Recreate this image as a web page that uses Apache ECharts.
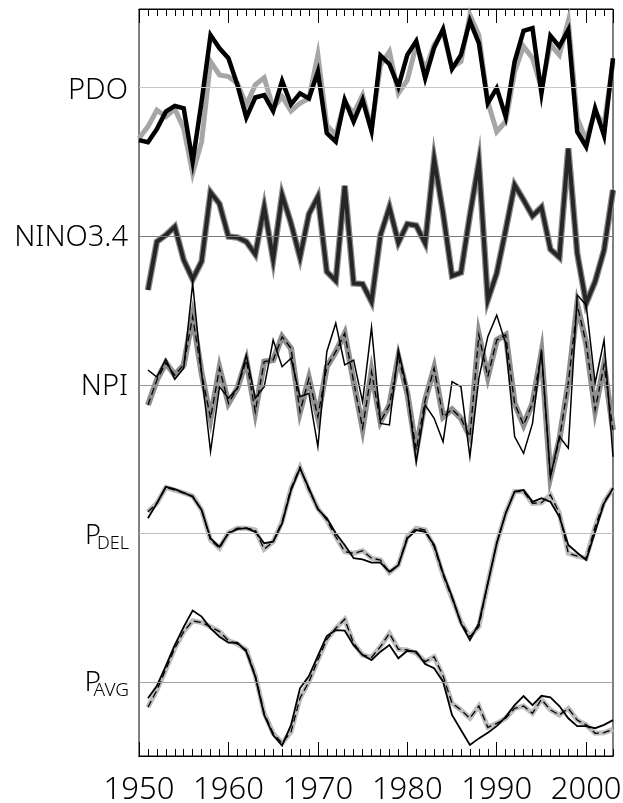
<!DOCTYPE html>
<html>
<head>
<meta charset="utf-8">
<script src="https://cdn.jsdelivr.net/npm/echarts@6/dist/echarts.min.js"></script>
<style>
  html, body { margin: 0; padding: 0; background: #fff; }
  #main { width: 623px; height: 803px; }
</style>
</head>
<body>
<div id="main"></div>
<script>
// years on the x axis
const years = [1950, 1951, 1952, 1953, 1954, 1955, 1956, 1957, 1958, 1959,
    1960, 1961, 1962, 1963, 1964, 1965, 1966, 1967, 1968, 1969,
    1970, 1971, 1972, 1973, 1974, 1975, 1976, 1977, 1978, 1979,
    1980, 1981, 1982, 1983, 1984, 1985, 1986, 1987, 1988, 1989,
    1990, 1991, 1992, 1993, 1994, 1995, 1996, 1997, 1998, 1999,
    2000, 2001, 2002, 2003];
const yearLabels = [1950, 1960, 1970, 1980, 1990, 2000];
const panelNames = ["PDO", "NINO3.4", "NPI", "P", "P"];
const panelSubs = ["", "", "", "DEL", "AVG"];

// PDO (two versions)
const pdoBlack = [-1.76, -1.83, -1.39, -0.81, -0.62, -0.70, -2.48, -0.48, 1.74, 1.30,
    0.97, 0.08, -1.01, -0.34, -0.26, -0.79, 0.21, -0.57, -0.20, -0.37,
    0.52, -1.53, -1.81, -0.42, -1.14, -0.42, -1.46, 1.06, 0.77, 0.02,
    1.08, 1.54, 0.30, 1.32, 1.94, 0.61, 1.08, 2.21, 1.47, -0.53,
    -0.03, -0.98, 0.86, 1.88, 1.97, -0.20, 1.72, 1.36, 1.91, -1.48,
    -1.98, -0.70, -1.61, 0.97];
const pdoGray = [-1.70, -1.31, -0.76, -0.98, -0.72, -1.37, -2.87, -1.81, 0.86, 0.41,
    0.36, 0.13, -0.59, 0.08, 0.32, -0.70, -0.31, -0.79, -0.53, -0.37,
    1.08, -1.26, -1.59, -0.48, -0.87, -0.26, -1.37, 0.74, 1.19, -0.20,
    0.24, 1.41, 0.58, 1.41, 1.86, 0.66, 0.86, 2.41, 1.74, -0.48,
    -1.48, -1.14, 0.52, 1.36, 0.97, -0.03, 1.43, 1.08, 2.21, -1.03,
    -1.76, -0.81, -1.26, 0.86];

// NINO3.4
const nino = [null, -1.79, -0.18, 0.04, 0.32, -0.79, -1.43, -0.84, 1.47, 1.08,
    -0.01, -0.04, -0.18, -0.60, 0.97, -0.77, 1.38, 0.43, -0.70, 0.74,
    1.32, -1.18, -1.48, 1.68, -1.57, -1.59, -2.18, 0.04, 0.97, -0.21,
    0.41, 0.36, -0.23, 2.57, 0.77, -1.32, -1.21, 0.71, 2.47, -2.12,
    -1.23, 0.21, 1.71, 1.21, 0.68, 0.97, -0.43, -0.70, 2.93, -0.57,
    -2.23, -1.51, -0.46, 1.54];

// NPI: thin black line, thick gray line with dashed line on it
const npiBlack = [null, 0.50, 0.26, 0.86, 0.19, 0.56, 3.39, 0.39, -2.22, -0.06,
    -0.44, -0.11, 1.00, -0.44, -0.06, 1.50, 0.61, 0.89, -0.39, -0.28,
    -2.06, 1.11, 2.06, 0.67, 0.83, -0.56, 1.92, -1.28, -1.33, 1.17,
    -0.17, -2.56, -0.67, -1.11, -1.89, 0.11, -0.06, -2.39, 0.22, 1.61,
    2.33, 1.39, -1.72, -2.28, -1.28, 1.17, -3.06, -1.72, -2.11, 3.00,
    2.67, 0.06, 1.50, -2.39];
const npiGray = [null, -0.67, 0.17, 0.74, 0.33, 0.67, 2.28, 0.39, -1.11, 0.56,
    -0.61, -0.11, 0.83, -0.89, 0.78, 0.83, 1.61, 1.22, -0.89, 0.22,
    -1.06, 0.61, 1.11, 1.72, 0.11, -1.44, 0.44, -1.22, -0.67, 0.94,
    -0.28, -2.17, -0.50, 0.56, -1.06, -0.81, -1.11, -1.72, 1.67, 0.28,
    1.50, 1.67, -0.61, -1.33, -0.61, 1.06, -3.06, -1.83, 0.06, 2.67,
    1.39, -0.83, 0.67, -1.50];

// P_DEL
const pdelBlack = [null, 0.49, 0.99, 1.54, 1.46, 1.34, 1.21, 0.77, -0.18, -0.46,
    -0.01, 0.13, 0.16, 0.04, -0.34, -0.29, 0.32, 1.43, 2.16, 1.49,
    0.79, 0.49, -0.01, -0.40, -0.84, -0.88, -0.99, -0.99, -1.29, -1.07,
    -0.18, 0.10, 0.04, -0.40, -1.34, -2.12, -3.01, -3.57, -3.01, -1.68,
    -0.34, 0.66, 1.38, 1.43, 1.04, 1.16, 1.04, 0.54, -0.40, -0.66,
    -0.90, 0.04, 0.99, 1.49];
const pdelGray = [null, 0.71, 0.99, 1.52, 1.43, 1.34, 1.23, 0.77, -0.23, -0.51,
    0.01, 0.16, 0.16, 0.10, -0.54, -0.29, 0.38, 1.49, 2.19, 1.43,
    0.82, 0.43, -0.12, -0.62, -0.68, -0.59, -0.84, -0.90, -1.32, -1.07,
    -0.12, 0.16, 0.10, -0.46, -1.40, -2.18, -2.96, -3.46, -3.12, -1.68,
    -0.34, 0.66, 1.38, 1.38, 0.99, 1.01, 1.27, 0.66, -0.68, -0.77,
    -0.84, 0.21, 1.04, 1.49];

// P_AVG
const pavgBlack = [null, -0.54, -0.13, 0.53, 1.23, 1.84, 2.38, 2.18, 1.79, 1.51,
    1.31, 1.31, 1.01, 0.18, -1.10, -1.77, -2.12, -1.43, -0.21, 0.20,
    0.87, 1.53, 1.73, 1.71, 1.23, 0.90, 0.73, 1.01, 1.23, 0.79,
    1.04, 1.01, 0.60, 0.46, 0.01, -1.10, -1.60, -2.10, -1.88, -1.69,
    -1.47, -1.16, -0.77, -0.47, -0.77, -0.46, -0.51, -0.80, -1.21, -1.47,
    -1.47, -1.54, -1.43, -1.27];
const pavgGray = [null, -0.84, -0.27, 0.42, 1.12, 1.68, 2.04, 1.98, 1.84, 1.68,
    1.38, 1.27, 1.07, 0.23, -1.04, -1.71, -2.04, -1.66, -0.54, 0.01,
    0.73, 1.42, 1.79, 2.09, 1.29, 0.90, 0.82, 1.18, 1.62, 1.09,
    1.07, 0.96, 0.68, 0.84, 0.20, -0.71, -0.93, -1.21, -0.80, -1.51,
    -1.38, -1.21, -0.88, -0.80, -1.04, -0.58, -0.93, -1.10, -0.88, -1.27,
    -1.43, -1.71, -1.69, -1.58];

// layout of the stacked panels (pixels)
const gridTop = 9, gridBottom = 756;
const panelCenters = [87.3, 236.3, 385, 533, 682];
const pxPerUnit = 30;

const pairs = (vals) => years.map((y, i) => [y, vals[i]]);

const chart = echarts.init(document.getElementById("main"), null, { renderer: "canvas" });

const FONT = "'DejaVu Sans ExtraLight', 'Noto Sans', 'DejaVu Sans'";
const FW = 300;

// one hidden y axis per panel, zero on the panel centre
const yAxes = panelCenters.map(c => ({
    type: "value",
    gridIndex: 0,
    show: false,
    min: -(gridBottom - c) / pxPerUnit,
    max: (c - gridTop) / pxPerUnit
}));

const xBase = { type: "value", gridIndex: 0, min: 1950, max: 2003,
    axisLine: { show: true, onZero: false, lineStyle: { color: "#000", width: 1 } },
    splitLine: { show: false } };

const xAxes = [
    Object.assign({}, xBase, { position: "bottom", interval: 1,
        axisTick: { show: true, inside: true, length: 7, lineStyle: { color: "#000", width: 1 } },
        axisLabel: { show: false } }),
    Object.assign({}, xBase, { position: "bottom", interval: 10,
        axisTick: { show: true, inside: true, length: 14, lineStyle: { color: "#000", width: 1 } },
        axisLabel: { show: true, margin: 19, color: "#000", fontSize: 31, fontFamily: FONT, fontWeight: FW,
            showMaxLabel: false,
            formatter: v => (yearLabels.indexOf(v) >= 0 ? String(v) : "") } }),
    Object.assign({}, xBase, { position: "top", interval: 1,
        axisTick: { show: true, inside: true, length: 7, lineStyle: { color: "#000", width: 1 } },
        axisLabel: { show: false } }),
    Object.assign({}, xBase, { position: "top", interval: 10,
        axisTick: { show: true, inside: true, length: 14, lineStyle: { color: "#000", width: 1 } },
        axisLabel: { show: false } })
];

// zero line for each panel
const zeroColors = ["#c8c8c8", "#7a7a7a", "#959595", "#bdbdbd", "#a0a0a0"];
const zeroSeries = zeroColors.map((col, i) => ({
    type: "line",
    yAxisIndex: i,
    data: [],
    z: 1,
    markLine: {
        silent: true, symbol: "none", animation: false,
        label: { show: false },
        lineStyle: { color: col, type: "solid", width: 1.2 },
        data: [{ yAxis: 0 }]
    }
}));

const mk = (vals, axis, color, width, z, dash) => ({
    type: "line",
    yAxisIndex: axis,
    data: pairs(vals),
    showSymbol: false,
    symbol: "none",
    z: z,
    lineStyle: { color: color, width: width, type: dash || "solid", join: "miter", cap: "butt" }
});

const txt = (s, x, y, size) => ({
    type: "text", x: x, y: y,
    style: { text: s, fill: "#000", fontSize: size, fontFamily: FONT, fontWeight: FW,
        align: "right", verticalAlign: "middle" }
});

const option = {
    animation: false,
    backgroundColor: "#fff",
    grid: { left: 139, right: 10, top: gridTop, bottom: 803 - gridBottom,
        outerBoundsMode: "none", containLabel: false,
        show: true, borderColor: "#000", borderWidth: 1, backgroundColor: "transparent" },
    xAxis: xAxes,
    yAxis: yAxes,
    series: zeroSeries.concat([
        mk(pdoGray, 0, "#a6a6a6", 5, 2),
        mk(pdoBlack, 0, "#000", 4.5, 3),
        mk(nino, 1, "#8c8c8c", 6.5, 2),
        mk(nino, 1, "#262626", 4, 3),
        mk(npiGray, 2, "#8f8f8f", 6, 2),
        mk(npiGray, 2, "#000", 1.3, 3, [7, 4]),
        mk(npiBlack, 2, "#000", 1.5, 4),
        mk(pdelGray, 3, "#bcbcbc", 5, 2),
        mk(pdelGray, 3, "#000", 1.3, 3, [7, 4]),
        mk(pdelBlack, 3, "#000", 1.8, 4),
        mk(pavgGray, 4, "#bcbcbc", 5, 2),
        mk(pavgGray, 4, "#000", 1.3, 3, [7, 4]),
        mk(pavgBlack, 4, "#000", 1.8, 4)
    ]),
    graphic: [
        txt(panelNames[0], 128, panelCenters[0] + 3, 29),
        txt(panelNames[1], 128, panelCenters[1] + 1, 29),
        txt(panelNames[2], 128, panelCenters[2] + 2, 29),
        txt(panelNames[3], 101, panelCenters[3] + 3, 27),
        txt(panelSubs[3], 129, panelCenters[3] + 11, 18),
        txt(panelNames[4], 101, panelCenters[4] + 1, 28),
        txt(panelSubs[4], 129, panelCenters[4] + 9, 19)
    ]
};

chart.setOption(option);
</script>
</body>
</html>
